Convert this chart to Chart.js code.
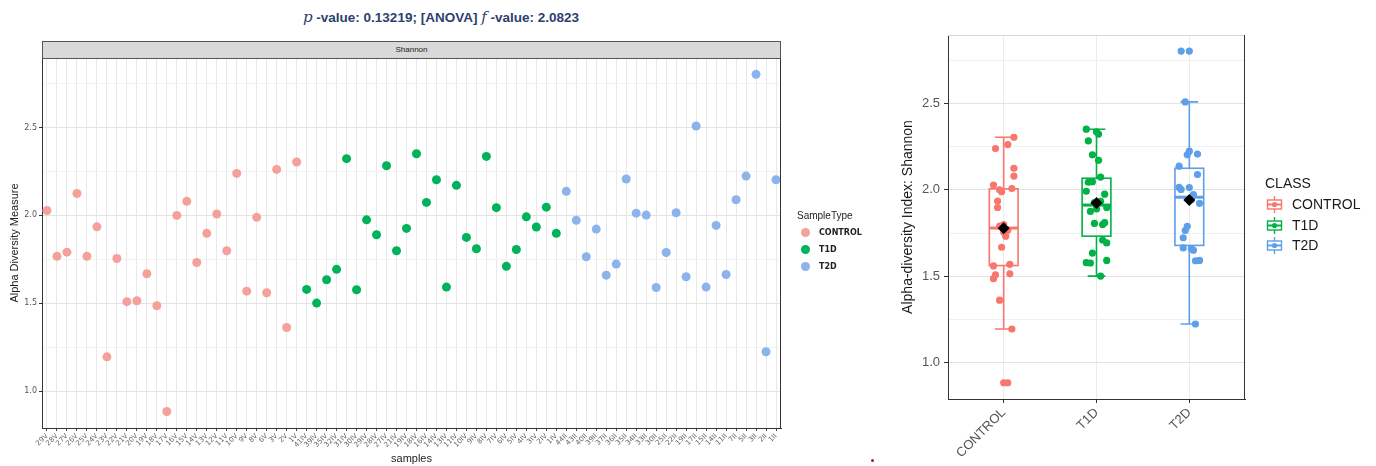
<!DOCTYPE html>
<html>
<head>
<meta charset="utf-8">
<script src="https://cdn.jsdelivr.net/npm/chart.js@4.4.1/dist/chart.umd.min.js"></script>
<style>
  body { margin:0; background:#fff; width:1376px; height:466px; overflow:hidden; position:relative; font-family:"Liberation Sans", Arial, sans-serif; }
  canvas { position:absolute; top:0; }
  #left { left:0; }
  #right { left:880px; }
  .title { position:absolute; left:0; top:8px; width:882px; text-align:center; font-weight:bold; font-size:13.5px; color:#2e3f6e; }
  .title i { font-family:"DejaVu Serif", "Liberation Serif", serif; font-weight:normal; font-size:15px; }
  .strip { position:absolute; left:42px; top:41px; width:737px; height:16px; background:#d9d9d9; border:1px solid #555; font-size:8px; color:#1a1a1a; text-align:center; line-height:16px; }
  .lg { position:absolute; color:#222; white-space:nowrap; }
  .lg .row { position:relative; }
  .dot { position:absolute; border-radius:50%; }
  .gly { position:absolute; }
  .red { position:absolute; left:871px; top:459px; width:3px; height:3px; border-radius:50%; background:#b3123d; }
</style>
</head>
<body>
<div class="title"><i>p</i> -value: 0.13219; [ANOVA] <i>f</i> -value: 2.0823</div>
<canvas id="left" width="880" height="466"></canvas>
<canvas id="right" width="496" height="466"></canvas>
<div class="strip">Shannon</div>
<div class="lg" id="legend1" style="left:797px; top:208px;"></div>
<div class="lg" id="legend2" style="left:1265px; top:173px;"></div>
<div class="red"></div>
<script>
// values
const classNames = ['CONTROL', 'T1D', 'T2D'];

const controlSamples = ['29V','28V','27V','26V','25V','24V','23V','22V','21V','20V','19V','18V','17V','16V','15V','14V','13V','12V','11V','10V','9V','8V','6V','3V','2V','1V'];
const t1dSamples = ['41IV','39IV','35IV','32IV','31IV','30IV','29IV','28IV','27IV','21IV','19IV','18IV','16IV','14IV','13IV','11IV','10IV','9IV','8IV','7IV','6IV','5IV','4IV','3IV','2IV','1IV'];
const t2dSamples = ['44II','43II','40II','39II','37II','36II','35II','34II','33II','30II','25II','22II','19II','17II','15II','14II','11II','7II','5II','3II','2II','1II'];

const controlValues = [2.028, 1.767, 1.791, 2.125, 1.767, 1.935, 1.195, 1.755, 1.509, 1.514, 1.668, 1.486, 0.884,
  2.000, 2.080, 1.732, 1.898, 2.008, 1.799, 2.239, 1.569, 1.989, 1.560, 2.262, 1.362, 2.304];
const t1dValues = [1.579, 1.501, 1.634, 1.693, 2.323, 1.577, 1.975, 1.890, 2.283, 1.799, 1.926, 2.351, 2.074,
  2.203, 1.592, 2.171, 1.875, 1.810, 2.336, 2.044, 1.710, 1.806, 1.992, 1.934, 2.047, 1.898];
const t2dValues = [2.137, 1.972, 1.765, 1.922, 1.660, 1.723, 2.207, 2.013, 2.002, 1.590, 1.789, 2.015, 1.651,
  2.509, 1.592, 1.943, 1.664, 2.089, 2.224, 2.803, 1.224, 2.203];

const yGridValues = [1.0, 1.25, 1.5, 1.75, 2.0, 2.25, 2.5, 2.75];
const yMin = 0.79, yMax = 2.896;

// styling
const lightColors = ['#f5a19b', '#00b35a', '#8cb4ec'];
const boxColors = ['#f8766d', '#00b145', '#5f9ee8'];

const groups = [controlValues, t1dValues, t2dValues];
const samples = controlSamples.concat(t1dSamples, t2dSamples);

function gridColor(c) {
  if (!c.tick) return '#e8e8e8';
  return (c.tick.value % 0.5 === 0) ? '#e3e3e3' : '#f1f1f1';
}
function tickColor(c) {
  return (c.tick && c.tick.value % 0.5 === 0) ? '#333' : 'rgba(0,0,0,0)';
}

const framePlugin = {
  id: 'frame',
  afterDatasetsDraw(chart) {
    const { ctx, chartArea: a } = chart;
    ctx.save();
    ctx.strokeStyle = chart.canvas.id === 'left' ? '#555' : '#d8d8d8';
    ctx.lineWidth = 1;
    ctx.beginPath(); ctx.moveTo(a.left, a.top + 0.5); ctx.lineTo(a.right, a.top + 0.5); ctx.stroke();
    ctx.strokeStyle = '#333';
    ctx.beginPath(); ctx.moveTo(a.right - 0.5, a.top); ctx.lineTo(a.right - 0.5, a.bottom); ctx.stroke();
    ctx.restore();
  }
};

// ---------- left: points per sample ----------
let offset = 0;
const leftSets = groups.map((vals, gi) => {
  const data = samples.map(() => null);
  vals.forEach((v, i) => { data[offset + i] = v; });
  offset += vals.length;
  return {
    label: classNames[gi],
    data: data,
    showLine: false,
    pointRadius: 4.5,
    pointBorderWidth: 0,
    pointBackgroundColor: lightColors[gi],
    borderColor: lightColors[gi]
  };
});

new Chart(document.getElementById('left'), {
  type: 'line',
  data: { labels: samples, datasets: leftSets },
  plugins: [framePlugin],
  options: {
    responsive: false,
    animation: false,
    layout: { padding: { left: 0, top: 58, right: 99, bottom: 0 } },
    plugins: { legend: { display: false }, tooltip: { enabled: false } },
    scales: {
      x: {
        type: 'category',
        offset: true,
        afterFit: s => { s.height = 38; },
        grid: { offset: false, color: '#e8e8e8', tickColor: '#444', tickLength: 3 },
        border: { color: '#333' },
        ticks: { autoSkip: false, maxRotation: 45, minRotation: 45, padding: 1, color: '#666', font: { size: 7, family: 'DejaVu Sans' } },
        title: { display: true, text: 'samples', color: '#222', padding: { top: 0, bottom: 0 }, font: { size: 11, family: 'Liberation Sans' } }
      },
      y: {
        min: yMin, max: yMax,
        afterFit: s => { s.width = 42; },
        afterBuildTicks: s => { s.ticks = yGridValues.map(v => ({ value: v })); },
        grid: { color: gridColor, tickColor: tickColor, tickLength: 3 },
        border: { color: '#333' },
        ticks: { padding: 2, color: '#555', font: { size: 8, family: 'DejaVu Sans' }, callback: v => (v % 0.5 === 0 ? v.toFixed(1) : '') },
        title: { display: true, text: 'Alpha Diversity Measure', color: '#222', padding: { top: 8, bottom: 0 }, font: { size: 11, family: 'Liberation Sans' } }
      }
    }
  }
});

// ---------- right: box plots with jitter ----------
function boxStats(arr) {
  const s = [...arr].sort((a, b) => a - b);
  const q = p => {
    const h = (s.length - 1) * p, lo = Math.floor(h);
    const nx = lo + 1 < s.length ? s[lo + 1] : s[lo];
    return s[lo] + (h - lo) * (nx - s[lo]);
  };
  const q1 = q(0.25), med = q(0.5), q3 = q(0.75), iqr = q3 - q1;
  const inside = s.filter(v => v >= q1 - 1.5 * iqr && v <= q3 + 1.5 * iqr);
  return {
    q1, med, q3,
    lo: inside[0], hi: inside[inside.length - 1],
    out: s.filter(v => v < q1 - 1.5 * iqr || v > q3 + 1.5 * iqr),
    mean: s.reduce((a, b) => a + b, 0) / s.length
  };
}
const stats = groups.map(boxStats);

const boxPlugin = {
  id: 'boxes',
  beforeDatasetsDraw(chart) {
    const { ctx, scales: { x, y } } = chart;
    stats.forEach((st, i) => {
      const c = i + 1;
      const xm = x.getPixelForValue(c);
      const bl = x.getPixelForValue(c - 0.155), br = x.getPixelForValue(c + 0.155);
      const cl = x.getPixelForValue(c - 0.095), cr = x.getPixelForValue(c + 0.095);
      ctx.save();
      ctx.strokeStyle = boxColors[i];
      ctx.lineWidth = 1.6;
      ctx.beginPath();
      ctx.moveTo(xm, y.getPixelForValue(st.hi)); ctx.lineTo(xm, y.getPixelForValue(st.q3));
      ctx.moveTo(xm, y.getPixelForValue(st.q1)); ctx.lineTo(xm, y.getPixelForValue(st.lo));
      ctx.moveTo(cl, y.getPixelForValue(st.hi)); ctx.lineTo(cr, y.getPixelForValue(st.hi));
      ctx.moveTo(cl, y.getPixelForValue(st.lo)); ctx.lineTo(cr, y.getPixelForValue(st.lo));
      ctx.stroke();
      ctx.strokeRect(bl, y.getPixelForValue(st.q3), br - bl, y.getPixelForValue(st.q1) - y.getPixelForValue(st.q3));
      ctx.lineWidth = 3;
      ctx.beginPath();
      ctx.moveTo(bl, y.getPixelForValue(st.med)); ctx.lineTo(br, y.getPixelForValue(st.med));
      ctx.stroke();
      ctx.restore();
    });
  }
};

// Chart.js paints the first dataset on top, so mean first, then outliers, then jitter
const rightSets = [];
rightSets.push({
  label: 'mean',
  data: stats.map((st, gi) => ({ x: gi + 1, y: st.mean })),
  pointStyle: 'rectRot', pointRadius: 6, pointBorderWidth: 0,
  pointBackgroundColor: '#000'
});
rightSets.push({
  label: 'outliers',
  data: stats.flatMap((st, gi) => st.out.map(v => ({ x: gi + 1, y: v }))),
  pointRadius: 3.6, pointBorderWidth: 0,
  pointBackgroundColor: stats.flatMap((st, gi) => st.out.map(() => boxColors[gi]))
});
groups.forEach((vals, gi) => {
  rightSets.push({
    label: classNames[gi],
    data: vals.map((v, i) => ({ x: gi + 1 + (((i * 7) % 11) / 10 - 0.5) * 0.22, y: v })),
    pointRadius: 3.6, pointBorderWidth: 0,
    pointBackgroundColor: boxColors[gi]
  });
});

new Chart(document.getElementById('right'), {
  type: 'scatter',
  data: { datasets: rightSets },
  plugins: [boxPlugin, framePlugin],
  options: {
    responsive: false,
    animation: false,
    layout: { padding: { left: 0, top: 35, right: 131, bottom: 0 } },
    plugins: { legend: { display: false }, tooltip: { enabled: false } },
    scales: {
      x: {
        type: 'linear', min: 0.4, max: 3.6,
        afterFit: s => { s.height = 67; },
        afterBuildTicks: s => { s.ticks = classNames.map((n, i) => ({ value: i + 1 })); },
        grid: { color: '#ebebeb', tickColor: '#333', tickLength: 4 },
        border: { color: '#333' },
        ticks: { maxRotation: 45, minRotation: 45, padding: 2, color: '#555', font: { size: 13, family: 'Liberation Sans' }, callback: v => classNames[v - 1] }
      },
      y: {
        min: yMin, max: yMax,
        afterFit: s => { s.width = 68; },
        afterBuildTicks: s => { s.ticks = yGridValues.map(v => ({ value: v })); },
        grid: { color: gridColor, tickColor: tickColor, tickLength: 4 },
        border: { color: '#333' },
        ticks: { padding: 4, color: '#555', font: { size: 13, family: 'Liberation Sans' }, callback: v => (v % 0.5 === 0 ? v.toFixed(1) : '') },
        title: { display: true, text: 'Alpha-diversity Index: Shannon', color: '#1a1a1a', padding: { top: 20, bottom: 0 }, font: { size: 14, family: 'Liberation Sans' } }
      }
    }
  }
});

// ---------- legends ----------
const lg1 = document.getElementById('legend1');
lg1.innerHTML = '<div style="font-size:10px;height:16px;line-height:16px">SampleType</div>' +
  classNames.map((n, i) =>
    '<div class="row" style="height:17px;line-height:17px;font-size:8px;font-weight:bold;font-family:DejaVu Sans;padding-left:22px">' +
    '<span class="dot" style="left:4px;top:4px;width:9px;height:9px;background:' + lightColors[i] + '"></span>' + n + '</div>').join('');

const lg2 = document.getElementById('legend2');
lg2.innerHTML = '<div style="font-size:14px;height:21px;line-height:21px;color:#1a1a1a">CLASS</div>' +
  classNames.map((n, i) =>
    '<div class="row" style="height:20.5px;line-height:20.5px;font-size:14px;color:#1a1a1a;padding-left:27px">' +
    '<svg class="gly" style="left:1px;top:2px" width="17" height="17"><line x1="8.5" y1="0" x2="8.5" y2="17" stroke="' + boxColors[i] + '" stroke-width="1.4"/>' +
    '<rect x="1.5" y="4" width="14" height="9" fill="#fff" stroke="' + boxColors[i] + '" stroke-width="1.4"/>' +
    '<line x1="1.5" y1="8.5" x2="15.5" y2="8.5" stroke="' + boxColors[i] + '" stroke-width="2"/>' +
    '<circle cx="8.5" cy="8.5" r="2.6" fill="' + boxColors[i] + '"/></svg>' + n + '</div>').join('');
</script>
</body>
</html>
